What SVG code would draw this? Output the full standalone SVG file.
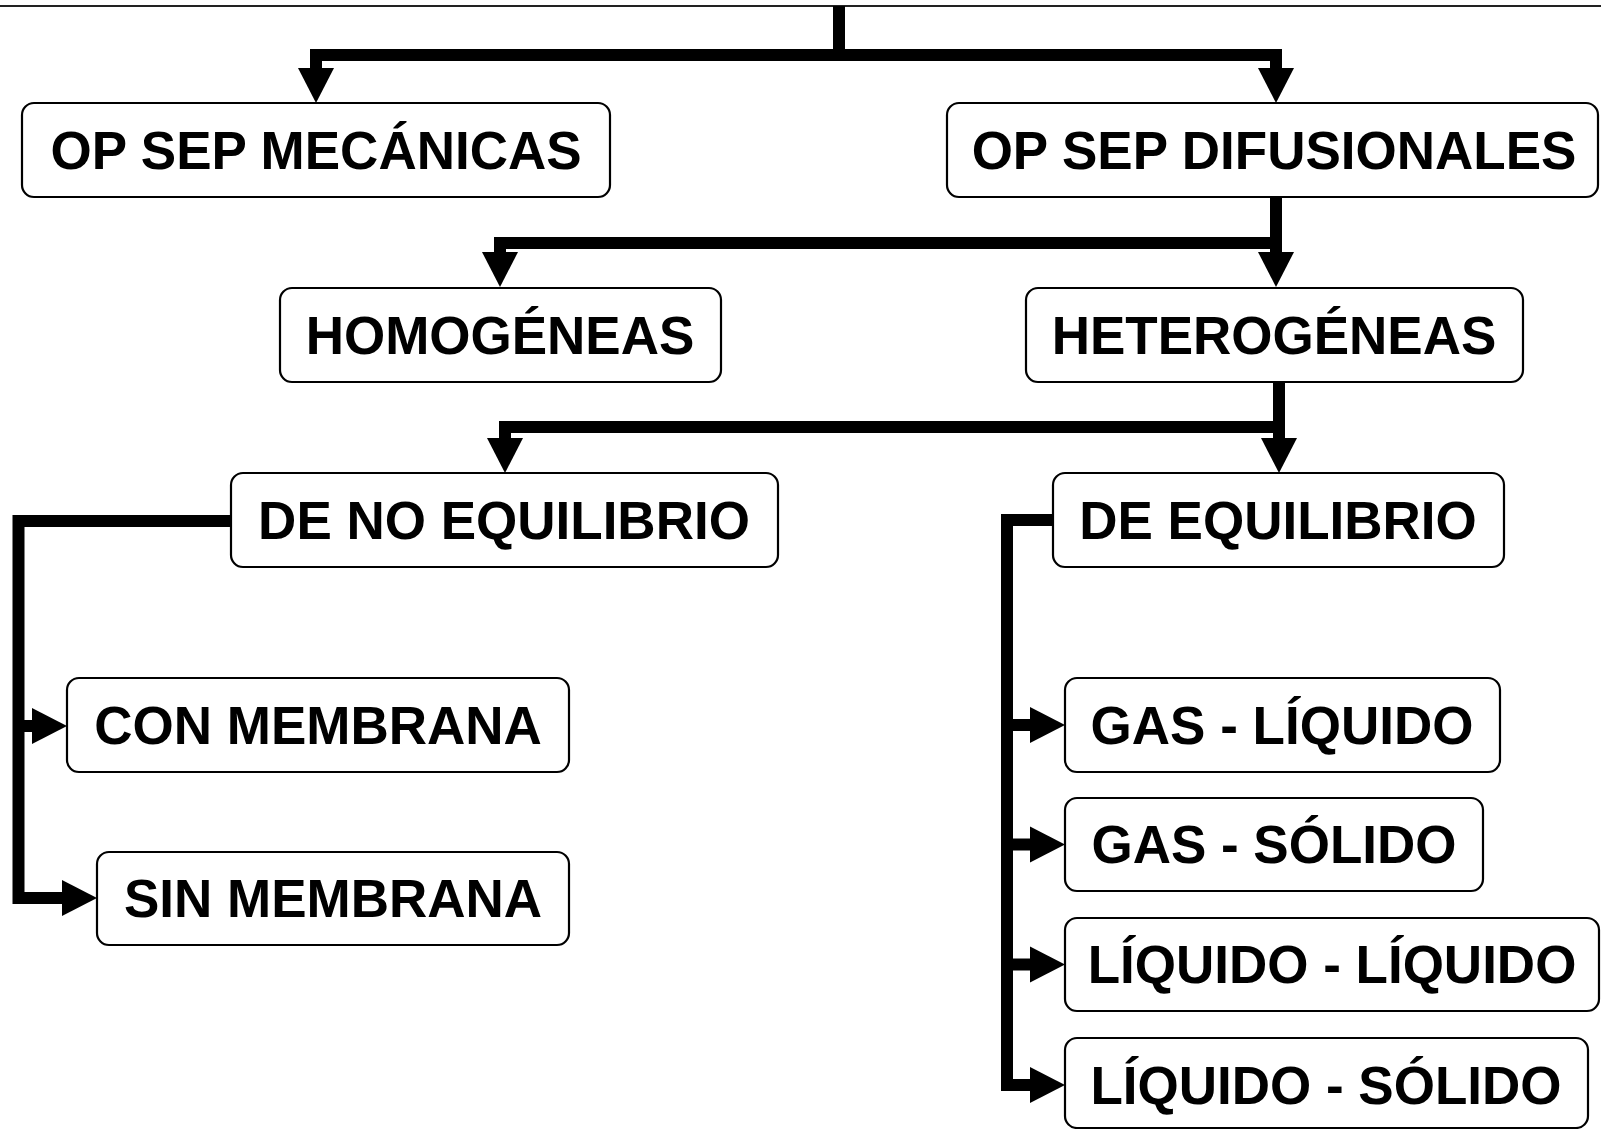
<svg xmlns="http://www.w3.org/2000/svg" width="1601" height="1129" viewBox="0 0 1601 1129">
<defs>
<style>
.box{fill:#fff;stroke:#000;stroke-width:2.2}
.lbl{font-family:"Liberation Sans",Arial,sans-serif;font-weight:bold;font-size:53px;fill:#000;text-anchor:middle}
.con{fill:none;stroke:#000;stroke-width:12;stroke-linejoin:miter;stroke-linecap:butt}
</style>
<marker id="ah" markerUnits="userSpaceOnUse" markerWidth="36" markerHeight="36" refX="0" refY="18" orient="auto" overflow="visible">
<path d="M0,0 L35,18 L0,36 Z" fill="#000"/>
</marker>
</defs>
<rect width="1601" height="1129" fill="#fff"/>
<line x1="0" y1="6" x2="1601" y2="6" stroke="#222" stroke-width="2"/>
<g id="connectors">
<path class="con" d="M839,6 V55 H316 V68" marker-end="url(#ah)"/>
<path class="con" d="M839,55 H1276 V68" marker-end="url(#ah)"/>
<path class="con" d="M1276,197 V252" marker-end="url(#ah)"/>
<path class="con" d="M1276,243 H500 V252" marker-end="url(#ah)"/>
<path class="con" d="M1279,382 V438" marker-end="url(#ah)"/>
<path class="con" d="M1279,427 H505 V438" marker-end="url(#ah)"/>
<path class="con" d="M231,521 H18.5 V898 H62" marker-end="url(#ah)"/>
<path class="con" d="M18.5,726 H32" marker-end="url(#ah)"/>
<path class="con" d="M1053,520 H1007 V1085 H1030" marker-end="url(#ah)"/>
<path class="con" d="M1007,725 H1030" marker-end="url(#ah)"/>
<path class="con" d="M1007,844.5 H1030" marker-end="url(#ah)"/>
<path class="con" d="M1007,964.5 H1030" marker-end="url(#ah)"/>
</g>
<g id="n1"><rect class="box" x="22" y="103" width="588" height="94" rx="12"/><text class="lbl" x="316" y="169">OP SEP MECÁNICAS</text></g>
<g id="n2"><rect class="box" x="947" y="103" width="651" height="94" rx="12"/><text class="lbl" x="1274" y="169">OP SEP DIFUSIONALES</text></g>
<g id="n3"><rect class="box" x="280" y="288" width="441" height="94" rx="12"/><text class="lbl" x="500" y="354">HOMOGÉNEAS</text></g>
<g id="n4"><rect class="box" x="1026" y="288" width="497" height="94" rx="12"/><text class="lbl" x="1274" y="354">HETEROGÉNEAS</text></g>
<g id="n5"><rect class="box" x="231" y="473" width="547" height="94" rx="12"/><text class="lbl" x="504" y="539">DE NO EQUILIBRIO</text></g>
<g id="n6"><rect class="box" x="1053" y="473" width="451" height="94" rx="12"/><text class="lbl" x="1278" y="539">DE EQUILIBRIO</text></g>
<g id="n7"><rect class="box" x="67" y="678" width="502" height="94" rx="12"/><text class="lbl" x="318" y="744">CON MEMBRANA</text></g>
<g id="n8"><rect class="box" x="97" y="852" width="472" height="93" rx="12"/><text class="lbl" x="333" y="917">SIN MEMBRANA</text></g>
<g id="n9"><rect class="box" x="1065" y="678" width="435" height="94" rx="12"/><text class="lbl" x="1282" y="744">GAS - LÍQUIDO</text></g>
<g id="n10"><rect class="box" x="1065" y="798" width="418" height="93" rx="12"/><text class="lbl" x="1274" y="863">GAS - SÓLIDO</text></g>
<g id="n11"><rect class="box" x="1065" y="918" width="534" height="93" rx="12"/><text class="lbl" x="1332" y="983">LÍQUIDO - LÍQUIDO</text></g>
<g id="n12"><rect class="box" x="1065" y="1038" width="523" height="90" rx="12"/><text class="lbl" x="1326" y="1104">LÍQUIDO - SÓLIDO</text></g>
</svg>
